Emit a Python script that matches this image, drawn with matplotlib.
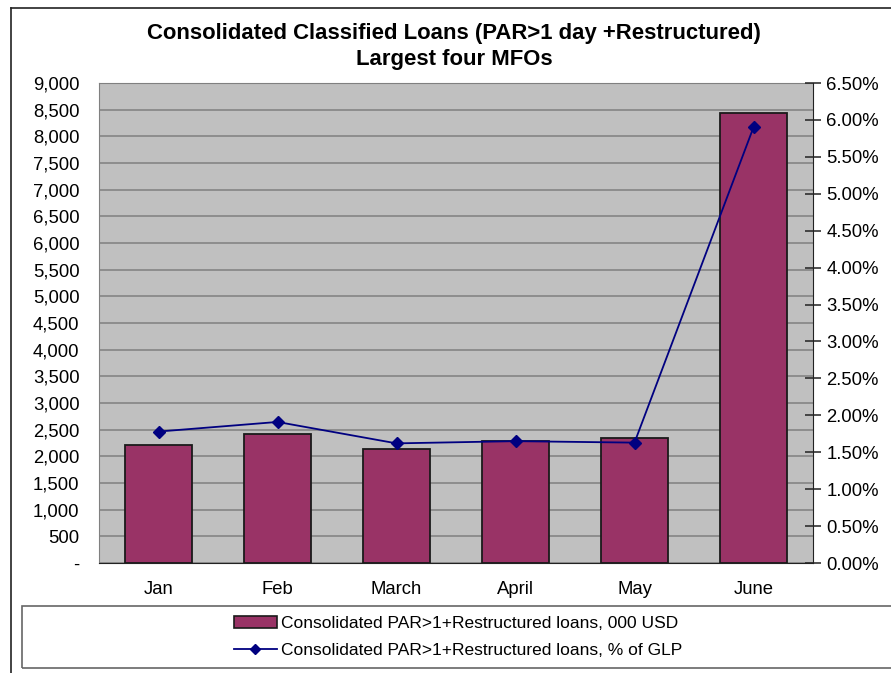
import matplotlib
matplotlib.use('Agg')
import matplotlib.pyplot as plt
from matplotlib.lines import Line2D
from matplotlib.patches import Rectangle
import numpy as np

plt.rcParams['font.family'] = ['Liberation Sans', 'DejaVu Sans']

months = ['Jan', 'Feb', 'March', 'April', 'May', 'June']
loans_usd = [2210, 2420, 2130, 2280, 2340, 8430]          # 000 USD
loans_pct = [1.78, 1.91, 1.62, 1.65, 1.63, 5.90]          # % of GLP

fig = plt.figure(figsize=(8.91, 6.73), dpi=100)
W, H = 891, 673
ax = fig.add_axes([99 / W, 1 - 563 / H, (813 - 99) / W, (563 - 83) / H])
ax.set_facecolor('#C0C0C0')

x = np.arange(len(months))
ax.bar(x, loans_usd, width=0.571, color='#993366', edgecolor='#1a1a1a', linewidth=1.3, zorder=3)
ax.set_xlim(-0.5, len(months) - 0.5)
ax.set_ylim(0, 9000)
ax.set_yticks(np.arange(0, 9001, 500))
ax.set_yticklabels(['-'] + ['{:,}'.format(v) for v in range(500, 9001, 500)])
ax.yaxis.grid(True, color='#808080', linewidth=1.1, zorder=0)
ax.set_axisbelow(True)
ax.tick_params(axis='y', length=0, pad=14, labelsize=13.3)
ax.set_xticks(x)
ax.set_xticklabels(months)
ax.tick_params(axis='x', length=0, pad=13, labelsize=13.3)
for s in ['left', 'top']:
    ax.spines[s].set_color('#808080')
ax.spines['bottom'].set_color('#222222')
ax.spines['right'].set_visible(False)

ax2 = ax.twinx()
ax2.plot(x, loans_pct, color='#000080', linewidth=1.3, marker='D', markersize=6,
         markerfacecolor='#000080', markeredgecolor='#000080', zorder=5)
ax2.set_ylim(0, 6.5)
ax2.set_yticks(np.arange(0, 6.51, 0.5))
ax2.set_yticklabels(['{:.2f}%'.format(v) for v in np.arange(0, 6.51, 0.5)])
ax2.tick_params(axis='y', direction='inout', length=11, width=1.1, color='#222222',
                pad=4, labelsize=13.3)
for s in ['left', 'top', 'bottom']:
    ax2.spines[s].set_visible(False)
ax2.spines['right'].set_color('#222222')

fig.text(454 / W, 1 - 33 / H, 'Consolidated Classified Loans (PAR>1 day +Restructured)',
         ha='center', va='center', fontsize=15.9, fontweight='bold')
fig.text(454 / W, 1 - 59 / H, 'Largest four MFOs',
         ha='center', va='center', fontsize=15.9, fontweight='bold')

# outer chart frame
fig.add_artist(Line2D([11 / W, 11 / W], [0, 1 - 8 / H], color='#222222', linewidth=1.2,
                      transform=fig.transFigure))
fig.add_artist(Line2D([11 / W, 1], [1 - 8 / H, 1 - 8 / H], color='#222222', linewidth=1.2,
                      transform=fig.transFigure))

# legend box
fig.add_artist(Rectangle((22 / W, 1 - 668 / H), (W + 5 - 22) / W, (668 - 606) / H,
                         transform=fig.transFigure, fill=False, edgecolor='#666666',
                         linewidth=1.2))
handles = [Rectangle((0, 0), 1, 1, facecolor='#993366', edgecolor='#1a1a1a', linewidth=1.2),
           Line2D([], [], color='#000080', linewidth=1.3, marker='D', markersize=5)]
labels = ['Consolidated PAR>1+Restructured loans, 000 USD',
          'Consolidated PAR>1+Restructured loans, % of GLP']
fig.legend(handles, labels, loc='center left', bbox_to_anchor=(225 / W, 1 - 637 / H),
           frameon=False, fontsize=12.5, handlelength=2.5, handletextpad=0.2,
           labelspacing=0.65, borderpad=0)

fig.savefig('out.png', dpi=100)
